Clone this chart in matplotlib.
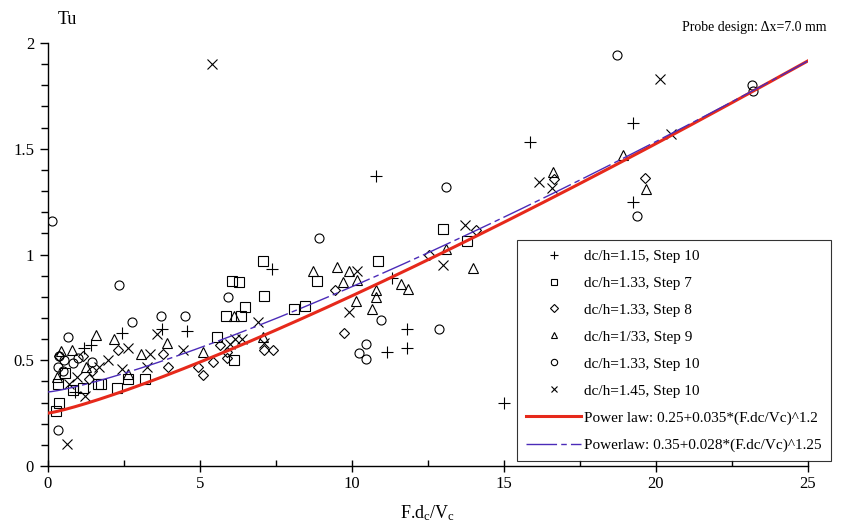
import numpy as np
import matplotlib
matplotlib.use("Agg")
import matplotlib.pyplot as plt
from matplotlib.ticker import MultipleLocator

plt.rcParams['font.family'] = ['Liberation Serif', 'DejaVu Serif']
plt.rcParams['mathtext.fontset'] = 'custom'
plt.rcParams['mathtext.rm'] = 'Liberation Serif'
plt.rcParams['mathtext.it'] = 'Liberation Serif:italic'
plt.rcParams['mathtext.default'] = 'rm'

# --- data ---
plus_x = [0.9, 1.2, 1.4, 2.43, 3.75, 4.57, 7.37, 10.8, 11.3, 11.15, 11.8, 11.8, 15.0, 15.86, 19.24, 19.24]
plus_y = [0.35, 0.56, 0.57, 0.63, 0.65, 0.64, 0.93, 1.37, 0.89, 0.54, 0.56, 0.65, 0.30, 1.53, 1.62, 1.25]

sq_x = [0.26, 0.37, 0.34, 0.55, 0.81, 1.14, 1.66, 1.73, 2.26, 2.62, 3.2, 5.57, 6.12, 5.86, 6.35, 6.48,
        6.06, 6.29, 7.06, 7.12, 8.09, 8.47, 8.86, 10.87, 12.98, 13.77]
sq_y = [0.26, 0.30, 0.39, 0.44, 0.36, 0.37, 0.39, 0.39, 0.37, 0.41, 0.41, 0.61, 0.50, 0.71, 0.71, 0.75,
        0.875, 0.87, 0.97, 0.805, 0.74, 0.757, 0.876, 0.97, 1.12, 1.065]

dm_x = [0.36, 1.14, 1.36, 1.44, 2.29, 3.79, 3.94, 4.95, 5.11, 5.44, 5.65, 5.9, 5.9, 7.1, 7.41, 9.44,
        9.74, 12.53, 14.08, 16.63, 19.64]
dm_y = [0.52, 0.52, 0.41, 0.45, 0.55, 0.53, 0.47, 0.47, 0.43, 0.49, 0.57, 0.54, 0.51, 0.55, 0.55, 0.83,
        0.63, 1.0, 1.115, 1.357, 1.36]

tr_x = [0.42, 0.31, 0.8, 1.58, 1.24, 2.17, 2.64, 3.06, 3.9, 5.09, 6.13, 7.08, 8.71, 9.52, 9.9, 9.69,
        10.17, 10.13, 10.78, 10.78, 10.65, 11.61, 11.85, 13.09, 13.99, 16.6, 18.9, 19.66]
tr_y = [0.545, 0.42, 0.55, 0.62, 0.47, 0.6, 0.435, 0.53, 0.58, 0.54, 0.71, 0.61, 0.92, 0.94, 0.92, 0.87,
        0.88, 0.78, 0.83, 0.80, 0.74, 0.86, 0.835, 1.026, 0.935, 1.39, 1.47, 1.31]

ci_x = [0.13, 0.34, 0.67, 0.37, 0.34, 0.53, 0.48, 0.83, 1.0, 1.44, 2.34, 2.76, 3.72, 4.51, 5.93, 8.93,
        10.46, 10.24, 10.45, 10.95, 12.86, 13.08, 18.73, 19.37, 23.15, 23.2]
ci_y = [1.16, 0.17, 0.61, 0.52, 0.47, 0.50, 0.45, 0.485, 0.51, 0.49, 0.855, 0.68, 0.71, 0.71, 0.80, 1.077,
        0.575, 0.535, 0.505, 0.69, 0.646, 1.32, 1.945, 1.18, 1.80, 1.775]

xm_x = [0.61, 0.7, 0.94, 1.22, 1.69, 1.98, 2.45, 2.64, 3.25, 3.36, 3.6, 4.43, 5.39, 6.0, 6.15, 6.37,
        6.9, 7.12, 9.9, 10.15, 12.98, 13.72, 16.15, 16.59, 20.13, 20.48]
xm_y = [0.105, 0.39, 0.42, 0.33, 0.47, 0.50, 0.46, 0.56, 0.47, 0.53, 0.625, 0.55, 1.90, 0.577, 0.60, 0.60,
        0.68, 0.58, 0.73, 0.92, 0.95, 1.14, 1.345, 1.316, 1.83, 1.57]

labels = ["dc/h=1.15, Step 10", "dc/h=1.33, Step 7", "dc/h=1.33, Step 8",
          "dc/h=1/33, Step 9", "dc/h=1.33, Step 10", "dc/h=1.45, Step 10"]
fit1_label = "Power law: 0.25+0.035*(F.dc/Vc)^1.2"
fit2_label = "Powerlaw: 0.35+0.028*(F.dc/Vc)^1.25"
fit1 = (0.25, 0.035, 1.2)
fit2 = (0.35, 0.028, 1.25)
xticks = [0, 5, 10, 15, 20, 25]
xtick_labels = ['0', '5', '10', '15', '20', '25']
yticks = [0, 0.5, 1, 1.5, 2]
ytick_labels = ['0', '0.5', '1', '1.5', '2']

# --- figure ---
fig = plt.figure(figsize=(8.44, 5.27), dpi=100)
ax = fig.add_axes([48/844, 1-466/527, 760/844, 423/527])

mk = dict(linestyle='none', color='black', markerfacecolor='none', markeredgewidth=0.8, markersize=6.5)
ax.plot(plus_x, plus_y, marker='+', label=labels[0], **{**mk, 'markersize': 8})
ax.plot(sq_x, sq_y, marker='s', label=labels[1], **mk)
ax.plot(dm_x, dm_y, marker='D', label=labels[2], **{**mk, 'markersize': 5.2})
ax.plot(tr_x, tr_y, marker='^', label=labels[3], **mk)
ax.plot(ci_x, ci_y, marker='o', label=labels[4], **mk)
ax.plot(xm_x, xm_y, marker='x', label=labels[5], **{**mk, 'markersize': 7})

xx = np.linspace(0, 25, 400)
ax.plot(xx, fit1[0] + fit1[1]*xx**fit1[2], color='#e6291b', lw=2.2, label=fit1_label, zorder=3)
ax.plot(xx, fit2[0] + fit2[1]*xx**fit2[2], color='#4b2bb8', lw=1.0,
        dashes=(22, 3, 4, 3), label=fit2_label, zorder=4)

ax.set_xlim(0, 25)
ax.set_ylim(0, 2)
for s in ['top', 'right']:
    ax.spines[s].set_visible(False)
for s in ['left', 'bottom']:
    ax.spines[s].set_linewidth(1.0)
ax.set_xticks(xticks)
ax.set_xticklabels(xtick_labels)
ax.xaxis.set_minor_locator(MultipleLocator(2.5))
ax.set_yticks(yticks)
ax.set_yticklabels(ytick_labels)
ax.yaxis.set_minor_locator(MultipleLocator(0.1))
ax.tick_params(axis='x', which='major', direction='inout', length=8, width=1, labelsize=12, pad=3)
ax.tick_params(axis='x', which='minor', direction='in', length=4, width=1)
ax.tick_params(axis='y', which='major', direction='out', length=6, width=1, labelsize=12, pad=4)
ax.tick_params(axis='y', which='minor', direction='out', length=5, width=1)

ax.set_xlabel(r'F.d$_\mathregular{c}$/V$_\mathregular{c}$', fontsize=13, labelpad=8)
fig.text(58/844, 1-20/527, 'Tu', fontsize=13, va='center', ha='left')
fig.text(826/844, 1-27/527, 'Probe design: \u0394x=7.0 mm', fontsize=10, va='center', ha='right')

leg = ax.legend(loc='upper left', bbox_to_anchor=((517-48)/760, (466-240)/423),
                frameon=True, fancybox=False, edgecolor='black', fontsize=11,
                markerscale=0.7, handlelength=3.6, labelspacing=0.87, borderpad=0.6,
                handletextpad=0.2, borderaxespad=0)
leg.get_frame().set_linewidth(0.8)

fig.savefig('out.png', dpi=100)
